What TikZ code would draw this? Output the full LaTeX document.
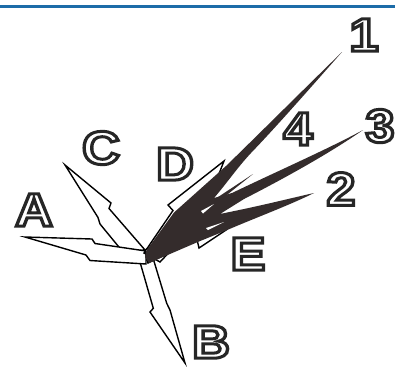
\documentclass[tikz,border=0pt]{standalone}
\usepackage{fontspec}
\setmainfont{Liberation Sans}
\usetikzlibrary{calc}
\definecolor{topblue}{RGB}{28,108,168}
\definecolor{darkfill}{RGB}{52,44,44}
\newcommand{\olet}[1]{\special{pdf:literal direct 2 Tr 3 w 0.15 0.15 0.15 RG}#1\special{pdf:literal direct 0 Tr}}
\begin{document}
\begin{tikzpicture}[x=1pt,y=-1pt,
  boltshape/.style={draw=black, fill=white, line width=1.4pt, line join=miter},
  lbl/.style={inner sep=0pt, text=white, font=\fontsize{47}{47}\selectfont\bfseries, xscale=1.12}]
\useasboundingbox (0,0) rectangle (395,367);
\fill[white] (0,0) rectangle (395,367);
\draw[topblue, line width=3pt] (0,6) -- (395,6);
% arrows B, C, A
\draw[boltshape] (140,262) -- (153.3,308.3) -- (150,312) -- (185,363) -- (170,310) -- (166.7,303.3) -- (153,258) -- cycle;
\draw[boltshape] (65,165) -- (111,203) -- (109,208.5) -- (145,250) -- (123,252) -- (100,224) -- (98,217.5) -- cycle;
\draw[boltshape] (25,237) -- (92,239) -- (95,243.5) -- (146,251) -- (146,264) -- (90,260.5) -- (86,255) -- cycle;
% arrows D and E (mostly hidden)
\draw[boltshape] (224,161) -- (168,205) -- (173,210.5) -- (144,253) -- (160,262) -- (195,225) -- (198,228) -- cycle;
\draw[boltshape] (226,230) -- (199,248) -- (197,239.5) -- (148,263) -- (145,250) -- (190,225) -- (193,221) -- cycle;
% dark discharge
\fill[darkfill] (145,257) -- (146,251) -- (174,212.5) -- (226,166)
  .. controls (265,128) and (305,88) .. (342,52)
  .. controls (298,102) and (274,129) .. (251,153)
  .. controls (237,168) and (227,183) .. (214,198)
  -- (232,193) .. controls (280,170) and (330,148) .. (363,130)
  .. controls (330,153) and (285,178) .. (244,199)
  -- (220,214)
  -- (244,209) .. controls (272,203) and (296,197) .. (314,193)
  .. controls (290,205) and (255,218) .. (226,230.5)
  -- (199,241.5) -- (149,263) -- cycle;
\fill[darkfill] (209,203) -- (253,174) -- (213,206) -- cycle;
\fill[white] (201,211) -- (214,204) -- (203,213.5) -- cycle;
\fill[white] (206,228) -- (224,222) -- (208,230) -- cycle;
% labels
\node[lbl] (lA) at (34,210) {\olet{A}};
\node[lbl] (lC) at (101,148) {\olet{C}};
\node[lbl] (lD) at (175,164) {\olet{D}};
\node[lbl] (lE) at (248,254) {\olet{E}};
\node[lbl] (lB) at (211,342) {\olet{B}};
\node[lbl] (l1) at (364,35) {\olet{1}};
\node[lbl] (l4) at (298,129) {\olet{4}};
\node[lbl] (l3) at (380,126) {\olet{3}};
\node[lbl] (l2) at (341,189) {\olet{2}};
\end{tikzpicture}
\end{document}
